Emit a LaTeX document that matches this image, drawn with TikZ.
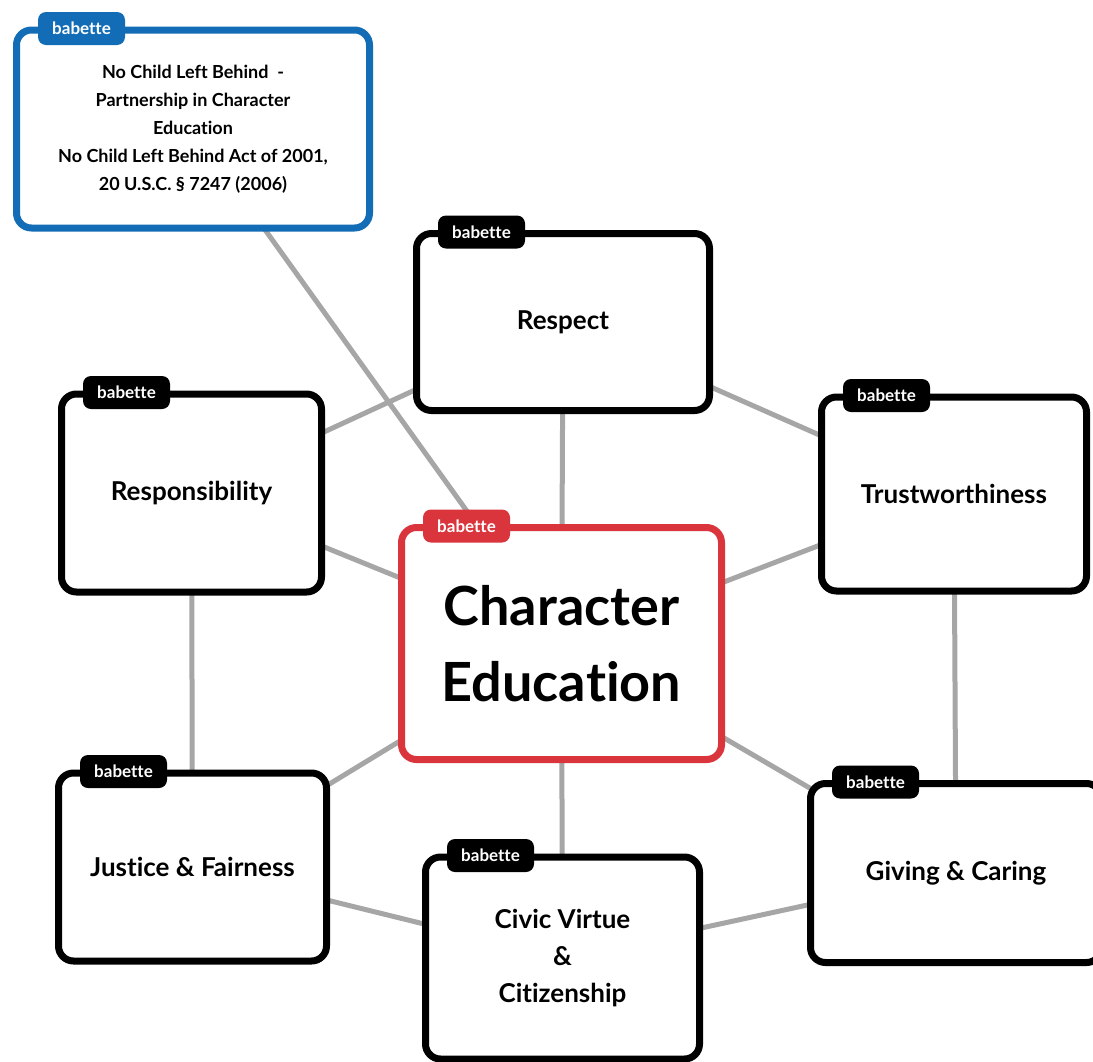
\documentclass[tikz,border=0pt]{standalone}
\usepackage{fontspec}
\setmainfont{Lato}[Ligatures=NoCommon]
\usetikzlibrary{backgrounds}
\definecolor{babblue}{RGB}{18,108,182}
\definecolor{babred}{RGB}{218,52,60}
\definecolor{babgray}{RGB}{166,166,166}

\begin{document}
\begin{tikzpicture}[x=1pt,y=-1pt,
  topic/.style={draw=black,fill=white,line width=7pt,rounded corners=15pt,
    outer sep=0pt,inner sep=0pt,align=center,
    font=\bfseries\fontsize{26}{37}\selectfont},
  tab/.style={fill=black,text=white,rounded corners=8pt,inner sep=0pt,
    minimum width=87pt,minimum height=33pt,
    font=\bfseries\fontsize{17}{17}\selectfont},
  link/.style={babgray,line width=5pt}
  ]
  \useasboundingbox (0,0) rectangle (1093,1061);
  \clip (0,0) rectangle (1093,1061);

  % boxes
  \node[topic,draw=babblue,minimum width=353pt,minimum height=198pt,
    font=\bfseries\fontsize{18}{28}\selectfont] (nclb) at (193,129)
    {No Child Left Behind\ \ -\\Partnership in Character\\Education\\
     No Child Left Behind Act of 2001,\\20 U.S.C. § 7247 (2006)};
  \node[topic,minimum width=293pt,minimum height=177pt] (respect) at (563,322) {Respect};
  \node[topic,minimum width=260pt,minimum height=198pt] (resp) at (191.5,493) {Responsibility};
  \node[topic,minimum width=265pt,minimum height=194pt] (trust) at (954,494) {Trustworthiness};
  \node[topic,draw=babred,minimum width=320pt,minimum height=232pt,
    font=\bfseries\fontsize{54}{76}\selectfont] (hub) at (561.5,643.5) {Character\\Education};
  \node[topic,minimum width=268pt,minimum height=188pt] (justice) at (192.5,867) {Justice \& Fairness};
  \node[topic,minimum width=274pt,minimum height=202pt] (civic) at (562.5,958) {Civic Virtue\\\&\\Citizenship};
  \node[topic,minimum width=291pt,minimum height=179pt] (giving) at (956,873) {Giving \& Caring};

  % tabs
  \foreach \b/\c in {nclb/babblue,respect/black,resp/black,trust/black,
    hub/babred,justice/black,civic/black,giving/black}
    \node[tab,fill=\c] (\b-tab) at ([xshift=65pt,yshift=1.5pt]\b.north west) {babette};

  % links
  \begin{scope}[on background layer]
    \draw[link] (nclb) -- (hub);
    \draw[link] (respect) -- (hub);
    \draw[link] (resp) -- (respect);
    \draw[link] (resp) -- (hub);
    \draw[link] (respect) -- (trust);
    \draw[link] (trust) -- (hub);
    \draw[link] (resp) -- (justice);
    \draw[link] (trust) -- (giving);
    \draw[link] (justice) -- (hub);
    \draw[link] (justice) -- (civic);
    \draw[link] (civic) -- (hub);
    \draw[link] (civic) -- (giving);
    \draw[link] (giving) -- (hub);
  \end{scope}
\end{tikzpicture}
\end{document}
